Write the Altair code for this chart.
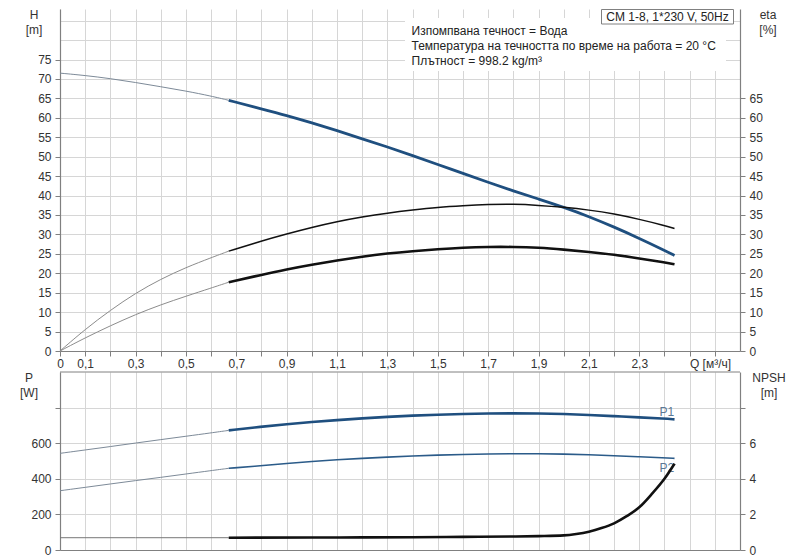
import altair as alt
import pandas as pd

# ---------------- data ----------------
Q_KNEE = 0.67  # start of the bold (operating) range

q_pts = [0, 0.1, 0.2, 0.3, 0.4, 0.5, 0.6, 0.67, 0.8, 0.9, 1.0, 1.1, 1.2, 1.3, 1.4, 1.5,
         1.6, 1.7, 1.8, 1.9, 2.0, 2.1, 2.2, 2.3, 2.4, 2.44]
head_m = [71.5, 70.9, 70.1, 69.1, 68.0, 66.9, 65.6, 64.5, 62.3, 60.6, 58.7, 56.7, 54.6, 52.5,
          50.3, 48.0, 45.7, 43.4, 41.2, 39.1, 37.0, 34.6, 31.9, 29.0, 25.9, 24.6]
eta_pump = [0, 5.6, 10.5, 14.9, 18.5, 21.5, 24.0, 25.7, 28.3, 30.1, 31.8, 33.3, 34.5, 35.5,
            36.3, 37.0, 37.4, 37.7, 37.8, 37.5, 37.0, 36.3, 35.3, 33.9, 32.3, 31.5]
eta_total = [0, 3.4, 6.5, 9.4, 11.9, 14.1, 16.2, 17.7, 19.6, 21.0, 22.2, 23.3, 24.3, 25.1,
             25.7, 26.2, 26.6, 26.8, 26.8, 26.6, 26.1, 25.5, 24.8, 23.8, 22.8, 22.3]
p1_w = [543, 562, 581, 601, 620, 639, 658, 672, 693, 707, 719, 730, 740, 748, 755, 760,
        764, 767, 768, 767, 764, 759, 752, 745, 738, 734]
p2_w = [333, 352, 371, 390, 408, 427, 446, 459, 474, 486, 497, 507, 515, 522, 528, 533,
        537, 540, 541, 541, 539, 535, 530, 524, 518, 515]

npsh_q = [0, 0.3, 0.67, 1.0, 1.2, 1.4, 1.6, 1.8, 1.9, 2.0, 2.05, 2.1, 2.15, 2.2, 2.25,
          2.3, 2.35, 2.4, 2.44]
npsh_m = [0.69, 0.69, 0.69, 0.70, 0.71, 0.72, 0.74, 0.76, 0.78, 0.82, 0.9, 1.03, 1.23,
          1.5, 1.9, 2.4, 3.15, 4.0, 4.85]

power_labels = ["P1", "P2"]
power_label_q = [2.41, 2.41]
power_label_p = [777, 459]

model_text = "CM 1-8, 1*230 V, 50Hz"
info_lines = ["Изпомпвана течност = Вода",
              "Температура на течността по време на работа = 20 °C",
              "Плътност = 998.2 kg/m³"]

x_tick_values = [round(i * 0.1, 1) for i in range(27)]
h_tick_values = list(range(0, 90, 5))
eta_tick_values = list(range(0, 70, 5))
p_tick_values = [0, 200, 400, 600, 800]
npsh_tick_values = [0, 2, 4, 6, 8]

# ---------------- helpers ----------------
FONT = "Liberation Sans"
W, H_TOP, H_BOT = 680, 342, 178
BLUE = "#1f4f7f"
THIN_BLUE = "#7d8a98"
THIN_GRAY = "#8c8c8c"


def part(qs, vs, bold):
    rows = [(q, v) for q, v in zip(qs, vs) if (q >= Q_KNEE if bold else q <= Q_KNEE)]
    return pd.DataFrame(rows, columns=["q", "v"])


x_scale = alt.Scale(domain=[0, 2.7], nice=False, zero=False)
x_label_expr = ("datum.value == 0 ? '0' : ((round(datum.value*10) % 2 == 1 && datum.value < 2.35)"
                " ? replace(format(datum.value, '.1f'), '.', ',') : '')")

x_top = alt.X("q:Q", scale=x_scale,
              axis=alt.Axis(values=x_tick_values, labelExpr=x_label_expr, labelOverlap=False,
                            labelFlush=False, labelPadding=2, grid=True,
                            title="Q [м³/ч]", titleX=650, titleY=7, titleAlign="center",
                            titleBaseline="top"))
x_bot = alt.X("q:Q", scale=x_scale,
              axis=alt.Axis(values=x_tick_values, labels=False, ticks=False, grid=True,
                            title=None))

y_h = alt.Y("v:Q", scale=alt.Scale(domain=[0, 88], nice=False),
            axis=alt.Axis(values=h_tick_values,
                          labelExpr="datum.value > 75 ? '' : datum.label",
                          tickOpacity={"condition": {"test": "datum.value > 75", "value": 0}, "value": 1},
                          grid=True, title=["H", "[m]"], titleAngle=0, titleX=-26.5, titleY=0,
                          titleAlign="center", titleBaseline="top", titleLineHeight=15))
y_eta = alt.Y("v:Q", scale=alt.Scale(domain=[0, 88], nice=False),
              axis=alt.Axis(orient="right", values=eta_tick_values, grid=False,
                            title=["eta", "[%]"], titleAngle=0, titleX=27.5, titleY=0,
                            titleAlign="center", titleBaseline="top", titleLineHeight=15))
y_p = alt.Y("v:Q", scale=alt.Scale(domain=[0, 1000], nice=False),
            axis=alt.Axis(values=p_tick_values,
                          labelExpr="datum.value > 600 ? '' : datum.label",
                          grid=True, title=["P", "[W]"], titleAngle=0, titleX=-31.5, titleY=0,
                          titleAlign="center", titleBaseline="top", titleLineHeight=15))
y_npsh = alt.Y("v:Q", scale=alt.Scale(domain=[0, 10], nice=False),
               axis=alt.Axis(orient="right", values=npsh_tick_values,
                             labelExpr="datum.value > 6 ? '' : datum.label",
                             grid=False, title=["NPSH", "[m]"], titleAngle=0, titleX=28.5,
                             titleY=0, titleAlign="center", titleBaseline="top",
                             titleLineHeight=15))


def curve(df, x, y, color, width, interp="basis"):
    return alt.Chart(df).mark_line(color=color, strokeWidth=width, interpolate=interp).encode(x=x, y=y)


one = pd.DataFrame({"k": [0]})

# ---------------- top panel ----------------
info_bg = alt.Chart(one).mark_rect(fill="white").encode(
    x=alt.value(345), x2=alt.value(666), y=alt.value(9), y2=alt.value(62))
model_box = alt.Chart(one).mark_rect(fill="white", stroke="#808080", strokeWidth=1).encode(
    x=alt.value(541.5), x2=alt.value(673.5), y=alt.value(0.5), y2=alt.value(15))
model_lbl = alt.Chart(one).mark_text(font=FONT, fontSize=12, color="#222", baseline="middle",
                                     align="center").encode(
    x=alt.value(607.5), y=alt.value(8), text=alt.value(model_text))
info_lbl = alt.Chart(pd.DataFrame({"t": ["\n".join(info_lines)]})).mark_text(
    font=FONT, fontSize=12, color="#222", baseline="top", align="left",
    lineBreak="\n", lineHeight=15).encode(
    x=alt.value(351.5), y=alt.value(17), text="t:N")

h_group = alt.layer(
    info_bg, model_box, model_lbl, info_lbl,
    curve(part(q_pts, head_m, False), x_top, y_h, THIN_BLUE, 1),
    curve(part(q_pts, head_m, True), x_top, y_h, BLUE, 2.8),
)
eta_group = alt.layer(
    curve(part(q_pts, eta_pump, False), x_top, y_eta, THIN_GRAY, 1),
    curve(part(q_pts, eta_total, False), x_top, y_eta, THIN_GRAY, 1),
    curve(part(q_pts, eta_pump, True), x_top, y_eta, "#111111", 1.5),
    curve(part(q_pts, eta_total, True), x_top, y_eta, "#111111", 2.6),
)
top = alt.layer(h_group, eta_group).resolve_scale(y="independent").properties(
    width=W, height=H_TOP)

# ---------------- bottom panel ----------------
top_border = alt.Chart(one).mark_rule(color="#808080", strokeWidth=1).encode(
    x=alt.value(0), x2=alt.value(W), y=alt.value(0))
p_labels = alt.Chart(pd.DataFrame({"q": power_label_q, "v": power_label_p, "t": power_labels})
                     ).mark_text(font=FONT, fontSize=12, color="#5b7895", align="center",
                                 baseline="middle").encode(x=x_bot, y=y_p, text="t:N")
p_group = alt.layer(
    top_border,
    curve(part(q_pts, p1_w, False), x_bot, y_p, THIN_BLUE, 1),
    curve(part(q_pts, p2_w, False), x_bot, y_p, THIN_BLUE, 1),
    curve(part(q_pts, p1_w, True), x_bot, y_p, BLUE, 2.6),
    curve(part(q_pts, p2_w, True), x_bot, y_p, "#2b5b89", 1.6),
    p_labels,
)
npsh_group = alt.layer(
    curve(part(npsh_q, npsh_m, False), x_bot, y_npsh, "#777777", 1, "monotone"),
    curve(part(npsh_q, npsh_m, True), x_bot, y_npsh, "#111111", 2.6, "monotone"),
)
bottom = alt.layer(p_group, npsh_group).resolve_scale(y="independent").properties(
    width=W, height=H_BOT)

chart = alt.vconcat(top, bottom, spacing=2).properties(
    padding={"left": 11, "top": 0, "right": 4, "bottom": 0},
    background="white",
).configure_view(stroke=None).configure_axis(
    labelFont=FONT, labelFontSize=12, labelColor="#333333", labelPadding=4,
    titleFont=FONT, titleFontSize=12, titleColor="#333333", titleFontWeight="normal",
    domainColor="#808080", domainWidth=1.2, tickColor="#808080", tickSize=5,
    gridColor="#d6d6d6", gridWidth=1,
)

chart.save("out.html", embed_options={"renderer": "svg", "actions": False})
